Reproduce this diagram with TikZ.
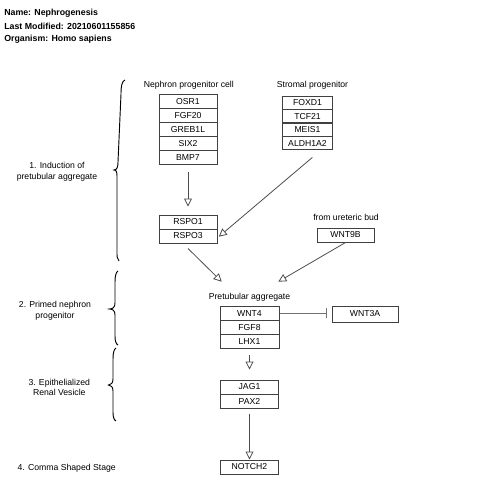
\documentclass[tikz,border=0pt]{standalone}
\usepackage{fontspec}
\setmainfont{Liberation Sans}
\usetikzlibrary{arrows.meta,calc}
\begin{document}
\begin{tikzpicture}[x=0.75pt,y=-0.75pt,
  every node/.style={font=\fontsize{6.5pt}{8pt}\selectfont, inner sep=0pt},
  gbox/.style={draw=black!75, line width=0.75pt, fill=white},
  nbox/.style={gbox, minimum width=43.5pt, minimum height=10.35pt},
  sbox/.style={gbox, minimum width=37.5pt, minimum height=10.1pt},
  rbox/.style={gbox, minimum width=43.5pt, minimum height=10.5pt},
  pbox/.style={gbox, minimum width=44.25pt, minimum height=10.75pt},
  titletext/.style={anchor=west, font=\fontsize{6.6pt}{8pt}\selectfont\bfseries},
  stagetext/.style={align=center},
  arr/.style={draw=black!70, line width=0.6pt, -{Triangle[open, length=6pt, width=6pt]}},
  inh/.style={draw=black!55, line width=0.75pt, -{Bar[width=7.5pt]}},
  bracestyle/.style={draw=black, line width=0.7pt}]
\useasboundingbox (0,0) rectangle (480,499);

% title
\node[titletext] (tname) at (4,13.3) {Name: Nephrogenesis};
\node[titletext] (tmod) at (4,26) {Last Modified: 20210601155856};
\node[titletext] (torg) at (4,39) {Organism: Homo sapiens};

% stage labels
\node[stagetext] (st1) at (57,171.5) {1. Induction of\\pretubular aggregate};
\node[stagetext] (st2) at (55,310.5) {2. Primed nephron\\progenitor};
\node[stagetext] (st3) at (59.3,387.5) {3. Epithelialized\\Renal Vesicle};
\node[stagetext] (st4) at (66.7,468.3) {4. Comma Shaped Stage};

% braces
\draw[bracestyle] (125,80) .. controls (122,81) and (121,86) .. (121,94) -- (118,162)
  .. controls (118,167) and (117,170) .. (114,170) .. controls (117,170) and (117,173) .. (117,178)
  -- (117,252) .. controls (117,256) and (117,259) .. (119,261);
\draw[bracestyle] (118,271) .. controls (116,272) and (115,276) .. (115,282) -- (115,303)
  .. controls (115,307) and (113,309) .. (109.5,309) .. controls (113,309) and (115,311) .. (115,315)
  -- (115,336) .. controls (115,341) and (116,344) .. (118,345);
\draw[bracestyle] (116,348) .. controls (114,349) and (113,353) .. (113,359) -- (113,379)
  .. controls (113,383) and (111,385) .. (108.5,385) .. controls (111,385) and (113,387) .. (113,391)
  -- (113,412) .. controls (113,417) and (114,420) .. (116,421);

% group labels
\node (npclabel) at (188.8,85) {Nephron progenitor cell};
\node (splabel) at (312.5,85) {Stromal progenitor};
\node (urlabel) at (346,217) {from ureteric bud};
\node (ptlabel) at (249.5,297) {Pretubular aggregate};

% nephron progenitor boxes
\node[nbox] (OSR1) at (188,101.9) {OSR1};
\node[nbox] (FGF20) at (188,115.7) {FGF20};
\node[nbox] (GREB1L) at (188,129.5) {GREB1L};
\node[nbox] (SIX2) at (188,143.3) {SIX2};
\node[nbox] (BMP7) at (188,157.1) {BMP7};

% stromal boxes
\node[sbox] (FOXD1) at (307.5,102.75) {FOXD1};
\node[sbox] (TCF21) at (307.5,116.25) {TCF21};
\node[sbox] (MEIS1) at (307.5,129.75) {MEIS1};
\node[sbox] (ALDH1A2) at (307.5,143.25) {ALDH1A2};

% RSPO
\node[rbox] (RSPO1) at (188,222) {RSPO1};
\node[rbox] (RSPO3) at (188,236) {RSPO3};

% WNT9B
\node[gbox, minimum width=42.75pt, minimum height=10.5pt] (WNT9B) at (345.5,235) {WNT9B};

% pretubular aggregate
\node[pbox] (WNT4) at (249.5,313.2) {WNT4};
\node[pbox] (FGF8) at (249.5,327.5) {FGF8};
\node[pbox] (LHX1) at (249.5,341.8) {LHX1};

\node[gbox, minimum width=49.5pt, minimum height=12pt] (WNT3A) at (365,314) {WNT3A};

% vesicle
\node[rbox] (JAG1) at (249.5,387) {JAG1};
\node[rbox] (PAX2) at (249.5,401) {PAX2};

\node[rbox] (NOTCH2) at (249.5,467) {NOTCH2};

% arrow targets
\coordinate (t1) at (221.7,281.7);
\coordinate (t2) at (278.3,281.7);

% connectors
\draw[arr, shorten <=5.8pt, shorten >=6pt] (BMP7) -- (RSPO1);
\draw[arr] ([shift={(4.8,7)}]ALDH1A2.south) -- ([shift={(1.3,0.7)}]RSPO3.east);
\draw[arr] ([shift={(0,5)}]RSPO3.south) -- (t1);
\draw[arr] (WNT9B.south) -- (t2);
\draw[inh, shorten >=3.75pt] (WNT4.east) -- (WNT4.east -| WNT3A.west);
\draw[arr, shorten <=4.5pt, shorten >=7.5pt] (LHX1.south) -- (LHX1.south |- JAG1.north);
\draw[arr, shorten <=3.75pt] (PAX2.south) -- (PAX2.south |- NOTCH2.north);
\end{tikzpicture}
\end{document}
